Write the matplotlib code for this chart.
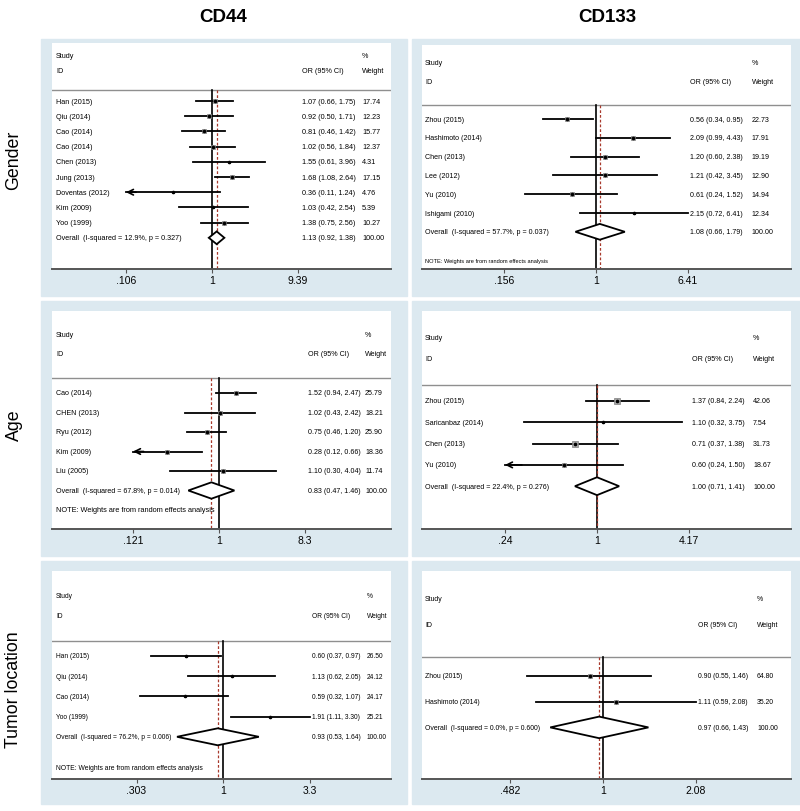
import matplotlib
matplotlib.use("Agg")
import matplotlib.pyplot as plt
import matplotlib.transforms as mtransforms
from matplotlib.patches import Rectangle, Polygon
import numpy as np

plt.rcParams['font.family'] = ['Liberation Sans', 'DejaVu Sans']

# ---- data ----
gender_cd44_study = ["Han (2015)", "Qiu (2014)", "Cao (2014)", "Cao (2014)", "Chen (2013)",
                     "Jung (2013)", "Doventas (2012)", "Kim (2009)", "Yoo (1999)"]
gender_cd44_or = [1.07, 0.92, 0.81, 1.02, 1.55, 1.68, 0.36, 1.03, 1.38]
gender_cd44_lo = [0.66, 0.50, 0.46, 0.56, 0.61, 1.08, 0.11, 0.42, 0.75]
gender_cd44_hi = [1.75, 1.71, 1.42, 1.84, 3.96, 2.64, 1.24, 2.54, 2.56]
gender_cd44_wt = [17.74, 12.23, 15.77, 12.37, 4.31, 17.15, 4.76, 5.39, 10.27]
gender_cd44_overall = [1.13, 0.92, 1.38]
gender_cd44_het = ["12.9%", "0.327"]
gender_cd44_ticks = [".106", "1", "9.39"]

gender_cd133_study = ["Zhou (2015)", "Hashimoto (2014)", "Chen (2013)", "Lee (2012)",
                      "Yu (2010)", "Ishigami (2010)"]
gender_cd133_or = [0.56, 2.09, 1.20, 1.21, 0.61, 2.15]
gender_cd133_lo = [0.34, 0.99, 0.60, 0.42, 0.24, 0.72]
gender_cd133_hi = [0.95, 4.43, 2.38, 3.45, 1.52, 6.41]
gender_cd133_wt = [22.73, 17.91, 19.19, 12.90, 14.94, 12.34]
gender_cd133_overall = [1.08, 0.66, 1.79]
gender_cd133_het = ["57.7%", "0.037"]
gender_cd133_ticks = [".156", "1", "6.41"]

age_cd44_study = ["Cao (2014)", "CHEN (2013)", "Ryu (2012)", "Kim (2009)", "Liu (2005)"]
age_cd44_or = [1.52, 1.02, 0.75, 0.28, 1.10]
age_cd44_lo = [0.94, 0.43, 0.46, 0.12, 0.30]
age_cd44_hi = [2.47, 2.42, 1.20, 0.66, 4.04]
age_cd44_wt = [25.79, 18.21, 25.90, 18.36, 11.74]
age_cd44_overall = [0.83, 0.47, 1.46]
age_cd44_het = ["67.8%", "0.014"]
age_cd44_ticks = [".121", "1", "8.3"]

age_cd133_study = ["Zhou (2015)", "Saricanbaz (2014)", "Chen (2013)", "Yu (2010)"]
age_cd133_or = [1.37, 1.10, 0.71, 0.60]
age_cd133_lo = [0.84, 0.32, 0.37, 0.24]
age_cd133_hi = [2.24, 3.75, 1.38, 1.50]
age_cd133_wt = [42.06, 7.54, 31.73, 18.67]
age_cd133_overall = [1.00, 0.71, 1.41]
age_cd133_het = ["22.4%", "0.276"]
age_cd133_ticks = [".24", "1", "4.17"]

tumor_cd44_study = ["Han (2015)", "Qiu (2014)", "Cao (2014)", "Yoo (1999)"]
tumor_cd44_or = [0.60, 1.13, 0.59, 1.91]
tumor_cd44_lo = [0.37, 0.62, 0.32, 1.11]
tumor_cd44_hi = [0.97, 2.05, 1.07, 3.30]
tumor_cd44_wt = [26.50, 24.12, 24.17, 25.21]
tumor_cd44_overall = [0.93, 0.53, 1.64]
tumor_cd44_het = ["76.2%", "0.006"]
tumor_cd44_ticks = [".303", "1", "3.3"]

tumor_cd133_study = ["Zhou (2015)", "Hashimoto (2014)"]
tumor_cd133_or = [0.90, 1.11]
tumor_cd133_lo = [0.55, 0.59]
tumor_cd133_hi = [1.46, 2.08]
tumor_cd133_wt = [64.80, 35.20]
tumor_cd133_overall = [0.97, 0.66, 1.43]
tumor_cd133_het = ["0.0%", "0.600"]
tumor_cd133_ticks = [".482", "1", "2.08"]

col_titles = ["CD44", "CD133"]
row_titles = ["Gender", "Age", "Tumor location"]
note_text = "NOTE: Weights are from random effects analysis"

W, H = 800, 812
BLUE = "#dce9f0"
fig = plt.figure(figsize=(W / 100, H / 100), dpi=100)


def fx(x):
    return x / W


def fy(y):
    return 1 - y / H


# blue graph regions (behind the panels)
col_x = [(41, 407), (412, 800)]
row_y = [(40, 297), (302, 557), (562, 805)]
for (a, b) in col_x:
    for (c, d) in row_y:
        fig.patches.append(Rectangle((fx(a), fy(d)), fx(b) - fx(a), fy(c) - fy(d),
                                     transform=fig.transFigure, color=BLUE, zorder=-10))

fig.text(fx(223), fy(18), col_titles[0], ha="center", va="center", fontsize=13.5, fontweight="bold")
fig.text(fx(607), fy(18), col_titles[1], ha="center", va="center", fontsize=13.5, fontweight="bold")
for t, yy in zip(row_titles, [160, 425, 690]):
    fig.text(fx(14), fy(yy), t, ha="center", va="center", rotation=90, fontsize=12.8)


def forest(study, orv, lo, hi, wt, overall, het, ticks, box, note_row, fs, note_fs, bsc):
    # box: white x0, x1, top, axis y, first row y, row step, tick px (lo, 1, hi), text x (ci, weight)
    x0, x1, top, pa, p0, step, tp, cx, wx = box
    T = float(ticks[2])
    dpd = (tp[2] - tp[0]) / (2 * np.log10(T))
    ax = fig.add_axes([fx(x0), fy(pa), fx(x1) - fx(x0), fy(top) - fy(pa)])
    ax.set_facecolor("white")
    ax.set_xscale("log")
    ax.set_xlim(10 ** ((x0 - tp[1]) / dpd), 10 ** ((x1 - tp[1]) / dpd))
    ybot = (pa - p0) / step
    ax.set_ylim(ybot, (top - p0) / step)
    for s in ["top", "left", "right"]:
        ax.spines[s].set_visible(False)
    ax.spines["bottom"].set_color("#555555")
    ax.spines["bottom"].set_linewidth(1.4)
    ax.set_yticks([])
    ax.set_xticks([1 / T, 1, T])
    ax.set_xticklabels(ticks)
    ax.xaxis.set_minor_locator(matplotlib.ticker.NullLocator())
    ax.tick_params(axis="x", length=3, width=0.8, color="#555555", labelsize=7.5, pad=1.5)

    tr = mtransforms.blended_transform_factory(ax.transAxes, ax.transData)
    lx = (56 if x0 < 400 else 425) - x0
    lx = lx / (x1 - x0)
    cxf = (cx - x0) / (x1 - x0)
    wxf = (wx - x0) / (x1 - x0)

    n = len(study)
    sep = -0.75
    ax.plot([0, 1], [sep, sep], transform=tr, color="#8f8f8f", lw=1.0)
    ax.text(lx, -3, "Study", transform=tr, fontsize=fs, va="center")
    ax.text(lx, -2, "ID", transform=tr, fontsize=fs, va="center")
    ax.text(cxf, -2, "OR (95% CI)", transform=tr, fontsize=fs, va="center")
    ax.text(wxf, -3, "%", transform=tr, fontsize=fs, va="center")
    ax.text(wxf, -2, "Weight", transform=tr, fontsize=fs, va="center")

    ax.plot([1, 1], [sep, ybot], color="black", lw=1.2, zorder=2)
    ax.plot([overall[0], overall[0]], [sep, ybot], color="#a8392c", lw=0.9,
            dashes=(2.2, 1.6), zorder=2)

    lo_lim = 1 / T
    for i in range(n):
        if lo[i] < lo_lim * 1.045:
            ax.plot([lo_lim, hi[i]], [i, i], color="black", lw=1.3, zorder=3)
            ax.annotate("", xy=(lo_lim, i), xytext=(lo_lim * 1.3, i),
                        arrowprops=dict(arrowstyle="->", lw=1.2, color="black",
                                        mutation_scale=10, shrinkA=0, shrinkB=0))
        else:
            ax.plot([lo[i], hi[i]], [i, i], color="black", lw=1.3, zorder=3)
        side = bsc * np.sqrt(wt[i]) * 0.72
        ax.plot(orv[i], i, marker="s", ms=side, mfc="#a6a6a6", mec="#808080", mew=0.5, zorder=4)
        ax.plot(orv[i], i, marker="o", ms=1.6, color="black", zorder=5)
        ax.text(lx, i, study[i], transform=tr, fontsize=fs, va="center")
        ax.text(cxf, i, "%.2f (%.2f, %.2f)" % (orv[i], lo[i], hi[i]), transform=tr,
                fontsize=fs, va="center")
        ax.text(wxf, i, "%.2f" % wt[i], transform=tr, fontsize=fs, va="center")

    e, l, h = overall
    dh = 0.42
    ax.add_patch(Polygon([(l, n), (e, n - dh), (h, n), (e, n + dh)], closed=True,
                         facecolor="white", edgecolor="black", lw=1.3, zorder=4))
    ax.text(lx, n, "Overall  (I-squared = %s, p = %s)" % (het[0], het[1]), transform=tr,
            fontsize=fs, va="center")
    ax.text(cxf, n, "%.2f (%.2f, %.2f)" % (e, l, h), transform=tr, fontsize=fs, va="center")
    ax.text(wxf, n, "100.00", transform=tr, fontsize=fs, va="center")
    if note_row is not None:
        ax.text(lx, note_row, note_text, transform=tr, fontsize=note_fs, va="center")
    return ax


forest(gender_cd44_study, gender_cd44_or, gender_cd44_lo, gender_cd44_hi, gender_cd44_wt,
       gender_cd44_overall, gender_cd44_het, gender_cd44_ticks,
       (52, 391, 44, 270, 102, 15.2, (126, 212, 298), 302, 362), None, 5.2, 5.0, 1.05)
forest(gender_cd133_study, gender_cd133_or, gender_cd133_lo, gender_cd133_hi, gender_cd133_wt,
       gender_cd133_overall, gender_cd133_het, gender_cd133_ticks,
       (422, 791, 46, 270, 120, 18.8, (504, 596, 688), 690, 752), 7.5, 5.1, 4.05, 0.85)
forest(age_cd44_study, age_cd44_or, age_cd44_lo, age_cd44_hi, age_cd44_wt,
       age_cd44_overall, age_cd44_het, age_cd44_ticks,
       (52, 391, 312, 530, 394, 19.5, (133, 219, 305), 308, 365), 6, 5.1, 5.3, 0.9)
forest(age_cd133_study, age_cd133_or, age_cd133_lo, age_cd133_hi, age_cd133_wt,
       age_cd133_overall, age_cd133_het, age_cd133_ticks,
       (422, 791, 312, 530, 402, 21.3, (504, 597, 688), 692, 753), None, 5.1, 5.0, 0.95)
forest(tumor_cd44_study, tumor_cd44_or, tumor_cd44_lo, tumor_cd44_hi, tumor_cd44_wt,
       tumor_cd44_overall, tumor_cd44_het, tumor_cd44_ticks,
       (52, 391, 572, 780, 657, 20.2, (137, 223, 310), 312, 367), 5.5, 4.8, 4.85, 0.55)
forest(tumor_cd133_study, tumor_cd133_or, tumor_cd133_lo, tumor_cd133_hi, tumor_cd133_wt,
       tumor_cd133_overall, tumor_cd133_het, tumor_cd133_ticks,
       (422, 791, 572, 780, 677, 25.7, (510, 603, 696), 698, 757), None, 4.95, 4.6, 0.55)

fig.savefig("out.png", dpi=100)
